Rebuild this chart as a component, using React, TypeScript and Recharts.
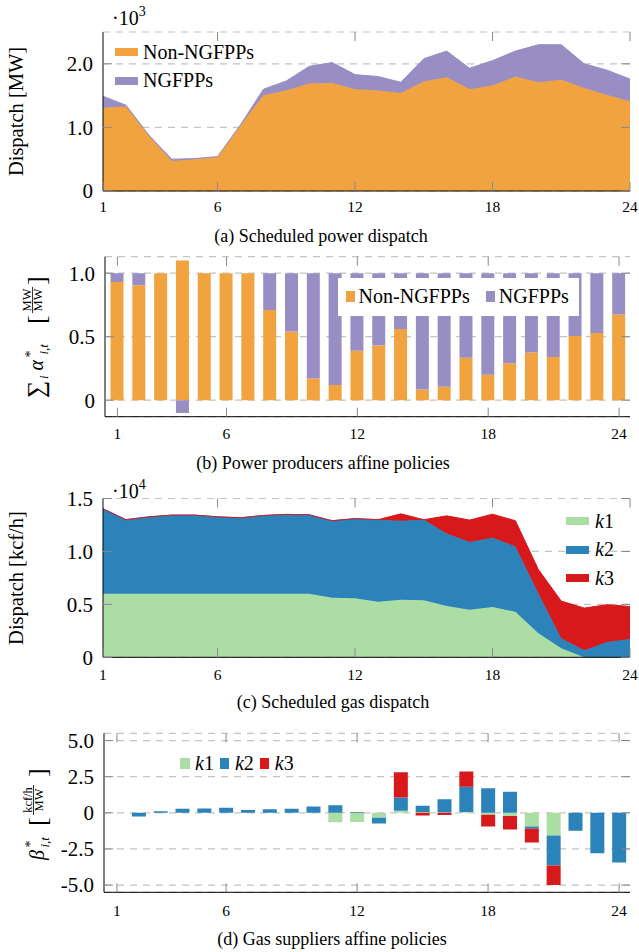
import React from 'react';
import { AreaChart, Area, BarChart, Bar, XAxis, YAxis, CartesianGrid, Legend } from 'recharts';

const SERIF = '"Liberation Serif", "Times New Roman", serif';
const ORANGE = '#f1a340';
const PURPLE = '#998ec3';
const GREEN = '#abdda4';
const BLUE = '#2b83ba';
const RED = '#d7191c';
const TICK = '#8a8a8a';
const GRID = '#c4c4c4';

const hours = [1, 2, 3, 4, 5, 6, 7, 8, 9, 10, 11, 12, 13, 14, 15, 16, 17, 18, 19, 20, 21, 22, 23, 24];
const hourTicks = [1, 6, 12, 18, 24];

// (a) scheduled power dispatch, MW
const nonNgfppMW = [1310, 1330, 870, 470, 500, 535, 1030, 1505, 1580, 1690, 1700, 1600, 1580, 1540, 1720, 1790, 1600, 1660, 1800, 1710, 1750, 1620, 1510, 1410];
const ngfppMW = [180, 20, 10, 30, 10, 5, 10, 95, 150, 270, 320, 230, 220, 170, 360, 410, 330, 390, 400, 590, 550, 380, 390, 350];
const powerTicks = [0, 1000, 2000];

// (b) power producers affine policies
const nonNgfppAlpha = [0.93, 0.905, 1, 1.1, 1, 1, 1, 0.71, 0.54, 0.17, 0.12, 0.39, 0.43, 0.56, 0.085, 0.105, 0.335, 0.2, 0.29, 0.375, 0.34, 0.505, 0.53, 0.675];
const ngfppAlpha = [0.07, 0.095, 0, -0.1, 0, 0, 0, 0.29, 0.46, 0.83, 0.88, 0.61, 0.57, 0.44, 0.915, 0.895, 0.665, 0.8, 0.71, 0.625, 0.66, 0.495, 0.47, 0.325];
const alphaTicks = [0, 0.5, 1];

// (c) scheduled gas dispatch, kcf/h
const gasK1 = [6000, 6000, 6000, 6000, 6000, 6000, 6000, 6000, 6000, 6000, 5630, 5570, 5250, 5440, 5380, 4840, 4500, 4750, 4300, 2260, 850, 0, 0, 0];
const gasK2 = [8030, 7000, 7270, 7430, 7430, 7270, 7180, 7400, 7500, 7460, 7270, 7530, 7750, 7460, 7620, 6860, 6380, 6550, 6170, 3780, 950, 660, 1450, 1730];
const gasK3 = [0, 0, 0, 0, 0, 0, 0, 0, 0, 0, 0, 0, 0, 650, 0, 1660, 2080, 2220, 2430, 2260, 3510, 3990, 3520, 3070];
const gasTicks = [0, 5000, 10000, 15000];

// (d) gas suppliers affine policies
const betaK1 = [0, 0, 0, 0, 0, 0, 0, 0, 0, 0, -0.65, -0.63, -0.35, 0.14, 0.05, 0.03, 0.05, -0.14, -0.23, -0.94, -1.57, 0, 0, 0];
const betaK2 = [0, -0.25, 0.1, 0.28, 0.3, 0.35, 0.2, 0.25, 0.28, 0.44, 0.53, 0.05, -0.39, 0.92, 0.43, 0.9, 1.75, 1.7, 1.45, -0.16, -2.07, -1.24, -2.79, -3.43];
const betaK3 = [0, 0, 0, 0, 0, 0, 0, 0, 0, 0, 0, 0, 0, 1.75, -0.18, -0.16, 1.05, -0.8, -0.92, -0.95, -1.36, 0, 0, 0];
const betaTicks = [-5, -2.5, 0, 2.5, 5];

const powerData = hours.map((h, i) => ({ hour: h, non: nonNgfppMW[i], ng: ngfppMW[i] }));
const alphaData = hours.map((h, i) => ({ hour: h, non: nonNgfppAlpha[i], ng: ngfppAlpha[i] }));
const gasData = hours.map((h, i) => ({ hour: h, k1: gasK1[i], k2: gasK2[i], k3: gasK3[i] }));
const betaData = hours.map((h, i) => ({ hour: h, k1: betaK1[i], k2: betaK2[i], k3: betaK3[i] }));

const oneDec = (v: number) => (v === 0 ? '0' : v.toFixed(1));

const seriesLabel = (v: string) => {
  const m = /^k(\d)$/.exec(v);
  if (m) return <><i>k</i>{m[1]}</>;
  return v;
};

// legend keeps the series order, not alphabetical
const inOrder = (payload: any[], keys: string[]) =>
  [...(payload || [])].sort((a, b) => keys.indexOf(a.dataKey) - keys.indexOf(b.dataKey));

// x ticks: inward marks at bottom and top, label under the axis
const XTick = ({ x, y, payload, plotH, labelDy }: any) => {
  if (!hourTicks.includes(payload.value)) return null;
  return (
    <g>
      <line x1={x} x2={x} y1={y} y2={y - 9} stroke={TICK} />
      <line x1={x} x2={x} y1={y - plotH} y2={y - plotH + 9} stroke={TICK} />
      <text x={x} y={y + labelDy} textAnchor="middle" fontSize={15.5} fontFamily={SERIF} fill="#000">
        {payload.value}
      </text>
    </g>
  );
};

// y ticks: inward marks left and right, label left of the axis
const YTick = ({ x, y, payload, plotW, fmt }: any) => (
  <g>
    <line x1={x} x2={x + 9} y1={y} y2={y} stroke={TICK} />
    <line x1={x + plotW - 9} x2={x + plotW} y1={y} y2={y} stroke={TICK} />
    <text x={x - 10} y={y} dy="0.35em" textAnchor="end" fontSize={21} fontFamily={SERIF} fill="#000">
      {fmt(payload.value)}
    </text>
  </g>
);

const AreaKey = ({ payload, textGap, keys }: any) => (
  <div style={{ fontFamily: SERIF, fontSize: 20, color: '#000' }}>
    {inOrder(payload, keys).map((p: any) => (
      <div key={p.value} style={{ display: 'flex', alignItems: 'center', height: 28.5 }}>
        <span style={{ display: 'inline-block', width: 23, height: 8, background: p.color, marginRight: textGap }} />
        <span>{seriesLabel(p.value)}</span>
      </div>
    ))}
  </div>
);

const BarKey = ({ payload, pad, textGap, itemGap, bg, keys }: any) => (
  <div
    style={{
      display: 'flex',
      alignItems: 'center',
      height: '100%',
      paddingLeft: pad,
      background: bg,
      fontFamily: SERIF,
      fontSize: 20,
      color: '#000',
      boxSizing: 'border-box',
    }}
  >
    {inOrder(payload, keys).map((p: any, i: number) => (
      <div key={p.value} style={{ display: 'flex', alignItems: 'center', marginLeft: i ? itemGap : 0 }}>
        <span style={{ display: 'inline-block', width: 9.5, height: 11, background: p.color, marginRight: textGap }} />
        <span>{seriesLabel(p.value)}</span>
      </div>
    ))}
  </div>
);

const frameAxes = (xType: 'number' | 'category', xDomain: any, yDomain: number[]) => [
  <XAxis key="xt" xAxisId="top" orientation="top" dataKey="hour" type={xType} domain={xDomain} height={0}
    tick={false} tickLine={false} axisLine={{ stroke: '#000' }} />,
  <YAxis key="yr" yAxisId="right" orientation="right" domain={yDomain} width={0}
    tick={false} tickLine={false} axisLine={{ stroke: '#000' }} />,
];

const PowerDispatch = () => (
  <AreaChart width={639} height={215} data={powerData} margin={{ top: 32, right: 9, bottom: 0, left: 0 }}>
    <CartesianGrid vertical={false} strokeDasharray="7 6" stroke={GRID} strokeWidth={1.2} />
    <Area type="linear" dataKey="non" name="Non-NGFPPs" stackId="a" fill={ORANGE} stroke={ORANGE} fillOpacity={1} isAnimationActive={false} />
    <Area type="linear" dataKey="ng" name="NGFPPs" stackId="a" fill={PURPLE} stroke={PURPLE} fillOpacity={1} isAnimationActive={false} />
    <XAxis dataKey="hour" type="number" domain={[1, 24]} ticks={hourTicks} interval={0} height={24}
      tickSize={0} tickMargin={0} axisLine={{ stroke: '#000' }} tickLine={false}
      tick={<XTick plotH={159} labelDy={21} />} />
    <YAxis domain={[0, 2500]} ticks={powerTicks} allowDataOverflow width={103} tickSize={0} tickMargin={0}
      axisLine={{ stroke: '#000' }} tickLine={false} tick={<YTick plotW={527} fmt={(v: number) => oneDec(v / 1000)} />} />
    {frameAxes('number', [1, 24], [0, 2500])}
    <Legend layout="vertical" align="center" verticalAlign="middle"
      wrapperStyle={{ top: 38, left: 115, width: 'auto', height: 'auto' }}
      content={<AreaKey textGap={5} keys={['non', 'ng']} />} />
  </AreaChart>
);

const PowerPolicies = () => (
  <BarChart width={639} height={206.7} data={alphaData} stackOffset="sign" barSize={13}
    margin={{ top: 16.7, right: 9, bottom: 0, left: 0 }}>
    <CartesianGrid vertical={false} strokeDasharray="7 6" stroke={GRID} strokeWidth={1.2} />
    <Bar dataKey="non" name="Non-NGFPPs" stackId="a" fill={ORANGE} isAnimationActive={false} />
    <Bar dataKey="ng" name="NGFPPs" stackId="a" fill={PURPLE} isAnimationActive={false} />
    <XAxis dataKey="hour" interval={0} height={30} padding={{ left: 1.5, right: 0 }}
      tickSize={0} tickMargin={0} axisLine={{ stroke: '#000' }} tickLine={false}
      tick={<XTick plotH={160} labelDy={22} />} />
    <YAxis domain={[-0.13, 1.13]} ticks={alphaTicks} allowDataOverflow width={105} tickSize={0} tickMargin={0}
      axisLine={{ stroke: '#000' }} tickLine={false} tick={<YTick plotW={525} fmt={oneDec} />} />
    {frameAxes('category', undefined, [-0.13, 1.13])}
    <Legend layout="vertical" align="center" verticalAlign="middle"
      wrapperStyle={{ top: 37.7, left: 338, width: 241, height: 38.3 }}
      content={<BarKey pad={7.6} textGap={3.5} itemGap={16} bg="#fff" keys={['non', 'ng']} />} />
  </BarChart>
);

const GasDispatch = () => (
  <AreaChart width={639} height={217.3} data={gasData} margin={{ top: 28.5, right: 9, bottom: 0, left: 0 }}>
    <CartesianGrid vertical={false} strokeDasharray="7 6" stroke={GRID} strokeWidth={1.2} />
    <Area type="linear" dataKey="k1" name="k1" stackId="a" fill={GREEN} stroke={GREEN} fillOpacity={1} isAnimationActive={false} />
    <Area type="linear" dataKey="k2" name="k2" stackId="a" fill={BLUE} stroke={BLUE} fillOpacity={1} isAnimationActive={false} />
    <Area type="linear" dataKey="k3" name="k3" stackId="a" fill={RED} stroke={RED} fillOpacity={1} isAnimationActive={false} />
    <XAxis dataKey="hour" type="number" domain={[1, 24]} ticks={hourTicks} interval={0} height={30}
      tickSize={0} tickMargin={0} axisLine={{ stroke: '#000' }} tickLine={false}
      tick={<XTick plotH={158.8} labelDy={22.5} />} />
    <YAxis domain={[0, 15000]} ticks={gasTicks} allowDataOverflow width={103} tickSize={0} tickMargin={0}
      axisLine={{ stroke: '#000' }} tickLine={false} tick={<YTick plotW={527} fmt={(v: number) => oneDec(v / 10000)} />} />
    {frameAxes('number', [1, 24], [0, 15000])}
    <Legend layout="vertical" align="center" verticalAlign="middle"
      wrapperStyle={{ top: 36.75, left: 566, width: 'auto', height: 'auto' }}
      content={<AreaKey textGap={6} keys={['k1', 'k2', 'k3']} />} />
  </AreaChart>
);

const GasPolicies = () => (
  <BarChart width={639} height={222.3} data={betaData} stackOffset="sign" barSize={14}
    margin={{ top: 33.3, right: 9, bottom: 0, left: 0 }}>
    <CartesianGrid vertical={false} strokeDasharray="7 6" stroke={GRID} strokeWidth={1.2} />
    <Bar dataKey="k1" name="k1" stackId="a" fill={GREEN} isAnimationActive={false} />
    <Bar dataKey="k2" name="k2" stackId="a" fill={BLUE} isAnimationActive={false} />
    <Bar dataKey="k3" name="k3" stackId="a" fill={RED} isAnimationActive={false} />
    <XAxis dataKey="hour" interval={0} height={30} padding={{ left: 2, right: 0 }}
      tickSize={0} tickMargin={0} axisLine={{ stroke: '#000' }} tickLine={false}
      tick={<XTick plotH={159} labelDy={24} />} />
    <YAxis domain={[-5.5, 5.5]} ticks={betaTicks} allowDataOverflow width={104} tickSize={0} tickMargin={0}
      axisLine={{ stroke: '#000' }} tickLine={false} tick={<YTick plotW={526} fmt={oneDec} />} />
    {frameAxes('category', undefined, [-5.5, 5.5])}
    <Legend layout="vertical" align="center" verticalAlign="middle"
      wrapperStyle={{ top: 51.5, left: 180, width: 'auto', height: 24 }}
      content={<BarKey pad={0} textGap={5.5} itemGap={6} keys={['k1', 'k2', 'k3']} />} />
  </BarChart>
);

// rotated axis titles, exponent labels and sub-captions
const Annotations = () => (
  <svg width={639} height={952} style={{ position: 'absolute', left: 0, top: 0, pointerEvents: 'none' }}
    fontFamily={SERIF} fill="#000">
    {/* (a) */}
    <text transform="translate(23,111.5) rotate(-90)" textAnchor="middle" fontSize={20.5}>Dispatch [MW]</text>
    <text x={112} y={25} fontSize={20}>·10<tspan dy={-9} fontSize={14}>3</tspan></text>
    <text x={321} y={241.6} textAnchor="middle" fontSize={18}>(a) Scheduled power dispatch</text>

    {/* (b) */}
    <g transform="translate(43,337.5) rotate(-90)">
      <text x={-60.5} y={1} fontSize={24}>∑</text>
      <text x={-41.5} y={5} fontSize={13} fontStyle="italic">i</text>
      <text x={-33} y={0} fontSize={20} fontStyle="italic">α</text>
      <text x={-20} y={-8} fontSize={14}>*</text>
      <text x={-17} y={5} fontSize={13} fontStyle="italic">i,t</text>
      <text x={13.5} y={2} fontSize={26}>[</text>
      <text x={37.5} y={-12.5} fontSize={12.5} textAnchor="middle">MW</text>
      <line x1={24.5} x2={50.5} y1={-10.5} y2={-10.5} stroke="#000" strokeWidth={0.8} />
      <text x={37.5} y={-1.5} fontSize={12.5} textAnchor="middle">MW</text>
      <text x={52.5} y={2} fontSize={26}>]</text>
    </g>
    <text x={323} y={468.6} textAnchor="middle" fontSize={18}>(b) Power producers affine policies</text>

    {/* (c) */}
    <text transform="translate(23,578) rotate(-90)" textAnchor="middle" fontSize={20.5}>Dispatch [kcf/h]</text>
    <text x={112} y={497.5} fontSize={20}>·10<tspan dy={-9} fontSize={14}>4</tspan></text>
    <text x={333} y={707.6} textAnchor="middle" fontSize={18}>(c) Scheduled gas dispatch</text>

    {/* (d) */}
    <g transform="translate(44,814.5) rotate(-90)">
      <text x={-45.5} y={0} fontSize={20} fontStyle="italic">β</text>
      <text x={-33} y={-9} fontSize={14}>*</text>
      <text x={-33} y={5} fontSize={13} fontStyle="italic">i,t</text>
      <text x={-11.5} y={2} fontSize={26}>[</text>
      <text x={14.5} y={-12.5} fontSize={12.5} textAnchor="middle">kcf/h</text>
      <line x1={-0.5} x2={29.5} y1={-10.5} y2={-10.5} stroke="#000" strokeWidth={0.8} />
      <text x={14.5} y={-1.5} fontSize={12.5} textAnchor="middle">MW</text>
      <text x={37.5} y={2} fontSize={26}>]</text>
    </g>
    <text x={332} y={944.6} textAnchor="middle" fontSize={18}>(d) Gas suppliers affine policies</text>
  </svg>
);

const App = () => (
  <div style={{ position: 'absolute', left: 0, top: 0, width: 639, height: 952, background: '#fff', fontFamily: SERIF }}>
    <div style={{ position: 'absolute', left: 0, top: 0 }}><PowerDispatch /></div>
    <div style={{ position: 'absolute', left: 0, top: 240 }}><PowerPolicies /></div>
    <div style={{ position: 'absolute', left: 0, top: 470 }}><GasDispatch /></div>
    <div style={{ position: 'absolute', left: 0, top: 700 }}><GasPolicies /></div>
    <Annotations />
  </div>
);

export default App;
